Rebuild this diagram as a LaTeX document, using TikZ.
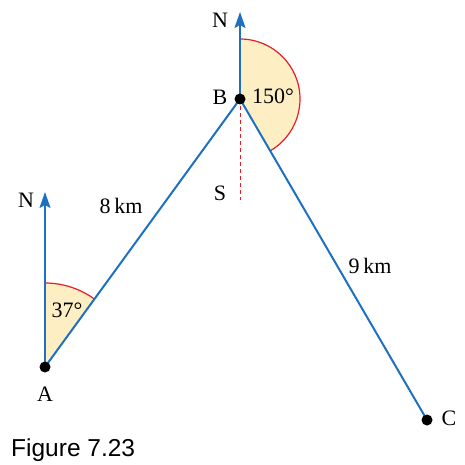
\documentclass[tikz,border=0pt]{standalone}
\usepackage{fontspec}
\setmainfont{Liberation Serif}
\setsansfont{Liberation Sans}
\usetikzlibrary{arrows.meta}

\definecolor{routeblue}{RGB}{30,112,192}
\definecolor{anglefill}{RGB}{253,238,196}
\definecolor{anglered}{RGB}{230,30,40}

\tikzset{
    route/.style={routeblue, line width=2pt},
    northline/.style={routeblue, line width=2pt,
        -{Stealth[length=16pt, width=11pt, inset=3pt]}},
    anglearc/.style={anglered, line width=1.2pt},
    point/.style={circle, fill=black, inner sep=0pt, minimum size=11pt},
    lbl/.style={font=\fontsize{22}{26}\selectfont, inner sep=0pt}
}

\begin{document}
\begin{tikzpicture}[x=1pt, y=1pt]
    \useasboundingbox (0,0) rectangle (465,464);
    % positions
    \coordinate (A) at (45,97);
    \coordinate (B) at (240,365);
    \coordinate (C) at (427,44);
    \coordinate (NA) at (45,272);
    \coordinate (NB) at (240,452);
    \coordinate (SB) at (240,264);

    % angles
    \fill[anglefill] (A) -- ++(90:84) arc[radius=84, start angle=90, end angle=54] -- cycle;
    \draw[anglearc] (A) ++(90:84) arc[radius=84, start angle=90, end angle=54];
    \fill[anglefill] (B) -- ++(90:60) arc[radius=60, start angle=90, end angle=-60] -- cycle;
    \draw[anglearc] (B) ++(90:60) arc[radius=60, start angle=90, end angle=-60];

    \draw[anglered, line width=1pt, dash pattern=on 4pt off 3pt] (B) -- (SB);

    % legs
    \draw[route] (A) -- (B);
    \draw[route] (B) -- (C);
    \draw[northline] (A) -- (NA);
    \draw[northline] (B) -- (NB);

    \node[point] (pA) at (A) {};
    \node[point] (pB) at (B) {};
    \node[point] (pC) at (C) {};

    % labels
    \node[lbl] at (45,70) {A};
    \node[lbl] at (220,367) {B};
    \node[lbl] at (449,46) {C};
    \node[lbl] at (26,264) {N};
    \node[lbl] at (220,444) {N};
    \node[lbl] at (220,271) {S};
    \node[lbl] at (121,258) {8\,km};
    \node[lbl] at (370,198) {9\,km};
    \node[lbl] at (67,154) {37°};
    \node[lbl] at (273,368) {150°};

    \node[font=\sffamily\fontsize{24.5}{28}\selectfont, anchor=base west, inner sep=0pt]
        at (11,8) {Figure 7.23};
\end{tikzpicture}
\end{document}
